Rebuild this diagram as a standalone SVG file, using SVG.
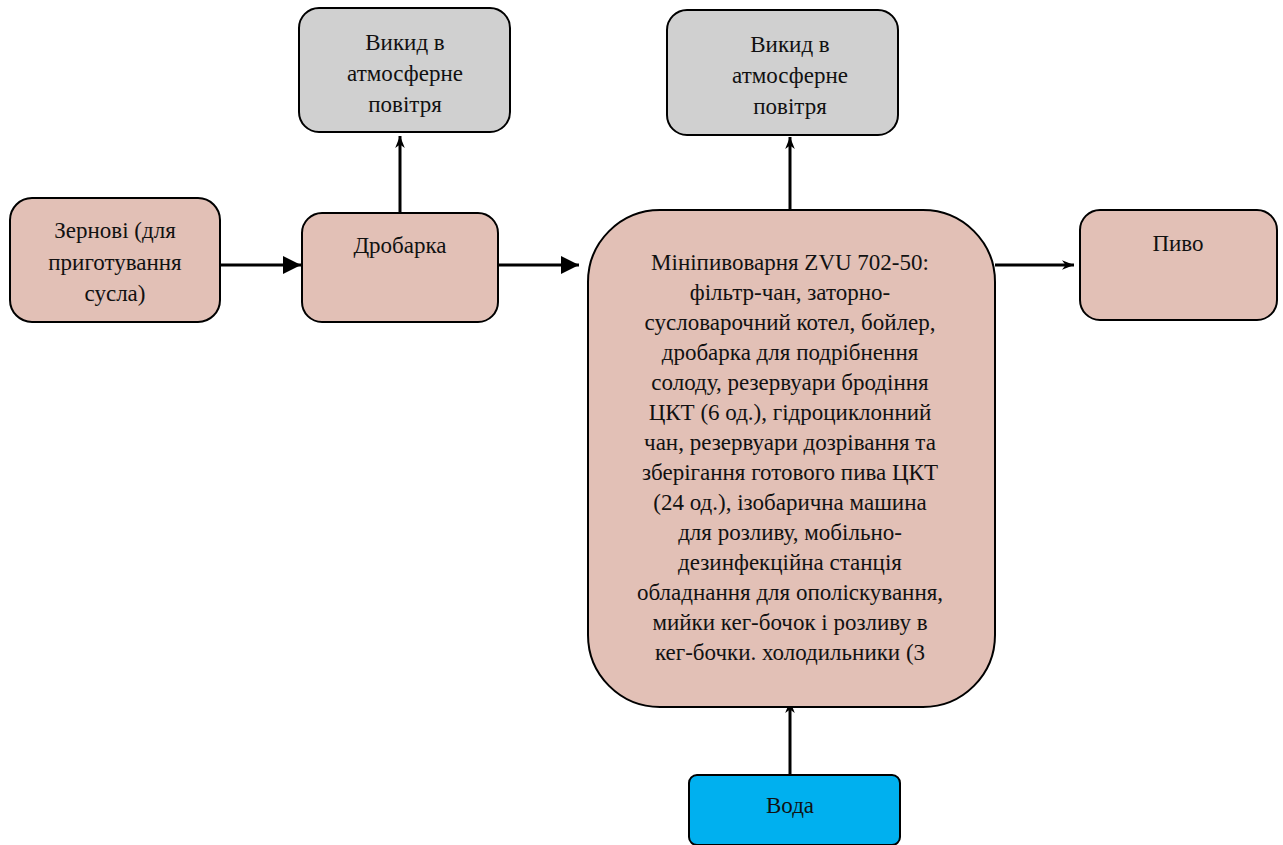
<svg xmlns="http://www.w3.org/2000/svg" width="1283" height="845" viewBox="0 0 1283 845">
<defs>
<marker id="ahs" viewBox="0 0 10 10" refX="10" refY="5" markerWidth="12" markerHeight="12" orient="auto" markerUnits="userSpaceOnUse">
<path d="M0,1 L10,5 L0,9 L3,5 z" fill="#000"/>
</marker>
<marker id="ahb" viewBox="0 0 10 10" refX="10" refY="5" markerWidth="18" markerHeight="18" orient="auto" markerUnits="userSpaceOnUse">
<path d="M0,0 L10,5 L0,10 z" fill="#000"/>
</marker>
</defs>
<style>
.box{stroke:#000;stroke-width:2}
.pink{fill:#e2c0b6}
.gray{fill:#d0d0d0}
.blue{fill:#00b0ef}
.c{stroke:#000;stroke-width:3;fill:none}
</style>
<rect width="1283" height="845" fill="#fff"/>
<g id="connectors">
<line class="c" x1="220" y1="265" x2="301" y2="265" marker-end="url(#ahb)"/>
<line class="c" x1="498" y1="265" x2="579" y2="265" marker-end="url(#ahb)"/>
<line class="c" x1="400" y1="213" x2="400" y2="136" marker-end="url(#ahs)"/>
<line class="c" x1="790" y1="210" x2="790" y2="137" marker-end="url(#ahs)"/>
<line class="c" x1="995" y1="265" x2="1074" y2="265" marker-end="url(#ahs)"/>
<line class="c" x1="790" y1="775" x2="790" y2="701" marker-end="url(#ahs)"/>
</g>
<g font-family="Liberation Serif, DejaVu Serif, serif" font-size="23" fill="#111" text-anchor="middle">
<g id="n-zernovi">
<rect class="box pink" x="10" y="198" width="210" height="124" rx="22"/>
<text x="115" y="238">Зернові (для</text>
<text x="115" y="270">приготування</text>
<text x="115" y="301">сусла)</text>
</g>
<g id="n-drobarka">
<rect class="box pink" x="302" y="213" width="196" height="109" rx="20"/>
<text x="400" y="253">Дробарка</text>
</g>
<g id="n-vykyd1">
<rect class="box gray" x="299" y="8" width="211" height="124" rx="20"/>
<text x="405" y="50">Викид в</text>
<text x="405" y="81">атмосферне</text>
<text x="405" y="112">повітря</text>
</g>
<g id="n-vykyd2">
<rect class="box gray" x="667" y="10" width="231" height="125" rx="20"/>
<text x="790" y="52">Викид в</text>
<text x="790" y="83">атмосферне</text>
<text x="790" y="114">повітря</text>
</g>
<g id="n-main">
<rect class="box pink" x="588" y="210" width="407" height="497" rx="72"/>
<text x="790" y="270">Мініпивоварня ZVU 702-50:</text>
<text x="790" y="300">фільтр-чан, заторно-</text>
<text x="790" y="330">сусловарочний котел, бойлер,</text>
<text x="790" y="360">дробарка для подрібнення</text>
<text x="790" y="390">солоду, резервуари бродіння</text>
<text x="790" y="420">ЦКТ (6 од.), гідроциклонний</text>
<text x="790" y="450">чан, резервуари дозрівання та</text>
<text x="790" y="480">зберігання готового пива ЦКТ</text>
<text x="790" y="510">(24 од.), ізобарична машина</text>
<text x="790" y="540">для розливу, мобільно-</text>
<text x="790" y="570">дезинфекційна станція</text>
<text x="790" y="600">обладнання для ополіскування,</text>
<text x="790" y="630">мийки кег-бочок і розливу в</text>
<text x="790" y="660">кег-бочки. холодильники (3</text>
</g>
<g id="n-pyvo">
<rect class="box pink" x="1080" y="210" width="197" height="110" rx="20"/>
<text x="1178" y="251">Пиво</text>
</g>
<g id="n-voda">
<rect class="box blue" x="689" y="775" width="211" height="70" rx="8"/>
<text x="790" y="813">Вода</text>
</g>
</g>
</svg>
